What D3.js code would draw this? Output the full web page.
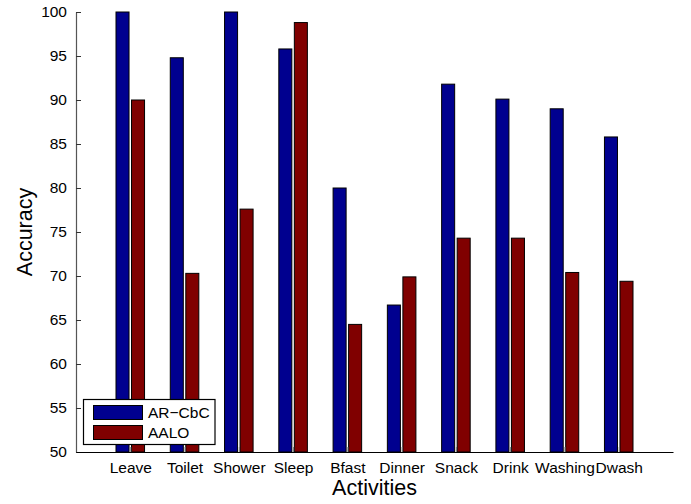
<!DOCTYPE html>
<html>
<head>
<meta charset="utf-8">
<script src="https://cdn.jsdelivr.net/npm/d3@7"></script>
<style>
  html, body { margin: 0; padding: 0; background: #fff; }
  svg { display: block; font-family: "Liberation Sans", Arial, Helvetica, sans-serif; }
</style>
</head>
<body>
<svg id="chart" width="691" height="504"></svg>
<script>
// Per-activity recognition accuracy for two methods
const activities = ["Leave", "Toilet", "Shower", "Sleep", "Bfast", "Dinner", "Snack", "Drink", "Washing", "Dwash"];
const seriesNames = ["AR\u2212CbC", "AALO"];
const arCbC = [100, 94.8, 100, 95.8, 80.0, 66.7, 91.8, 90.1, 89.0, 85.8];
const aalo  = [90.0, 70.3, 77.6, 98.8, 64.5, 69.9, 74.3, 74.3, 70.4, 69.4];
const yTicks = [50, 55, 60, 65, 70, 75, 80, 85, 90, 95, 100];
const colors = ["#00008f", "#800000"];

const svg = d3.select("#chart");
const plotLeft = 76, plotRight = 673, plotTop = 12, plotBottom = 452;

// groups sit at 1..10 with limits [0, 11]
const x = d3.scaleLinear().domain([0, activities.length + 1]).range([plotLeft, plotRight]);
const y = d3.scaleLinear().domain([50, 100]).range([plotBottom, plotTop]);

const barW = 0.24;       // bar width in x units
const offset = 0.143;    // distance of each bar's centre from the group centre
const series = [arCbC, aalo];

// bars
series.forEach((vals, s) => {
  svg.append("g").selectAll("rect")
    .data(vals)
    .join("rect")
    .attr("x", (d, i) => x(i + 1 + (s === 0 ? -offset : offset) - barW / 2))
    .attr("width", x(barW) - x(0))
    .attr("y", d => y(d))
    .attr("height", d => y(50) - y(d))
    .attr("fill", colors[s])
    .attr("stroke", "#000")
    .attr("stroke-width", 1);
});

// y axis (ticks point inward)
const yAxis = d3.axisLeft(y).tickValues(yTicks).tickSize(-5).tickPadding(9).tickSizeOuter(0);
const gy = svg.append("g").attr("transform", `translate(${plotLeft},0)`).call(yAxis);
gy.select(".domain").attr("stroke", "#555").attr("stroke-width", 1.2);
gy.selectAll(".tick line").attr("stroke", "#333");
gy.selectAll("text").attr("font-size", "15.5px").attr("fill", "#000")
  .attr("font-family", "Liberation Sans, Arial, sans-serif");

// x axis (ticks at group centres, inward)
const xAxis = d3.axisBottom(x)
  .tickValues(d3.range(1, activities.length + 1))
  .tickFormat(d => activities[d - 1])
  .tickSize(-5).tickPadding(10).tickSizeOuter(0);
const gx = svg.append("g").attr("transform", `translate(0,${plotBottom})`).call(xAxis);
gx.select(".domain").attr("stroke", "#000").attr("stroke-width", 1.2);
gx.selectAll(".tick line").attr("stroke", "#777");
gx.selectAll("text").attr("font-size", "15.5px").attr("fill", "#000")
  .attr("font-family", "Liberation Sans, Arial, sans-serif");

// axis titles
svg.append("text")
  .attr("x", (plotLeft + plotRight) / 2).attr("y", 495)
  .attr("text-anchor", "middle").attr("font-size", "21.5px")
  .text("Activities");
svg.append("text")
  .attr("transform", `translate(32,${(plotTop + plotBottom) / 2}) rotate(-90)`)
  .attr("text-anchor", "middle").attr("font-size", "21.5px")
  .text("Accuracy");

// legend
const lg = svg.append("g");
lg.append("rect")
  .attr("x", 83.5).attr("y", 399.5).attr("width", 131.5).attr("height", 45)
  .attr("fill", "#fff").attr("stroke", "#000").attr("stroke-width", 1.2);
seriesNames.forEach((name, i) => {
  lg.append("rect")
    .attr("x", 93.5).attr("y", 405.5 + i * 20).attr("width", 49).attr("height", 14)
    .attr("fill", colors[i]).attr("stroke", "#000").attr("stroke-width", 1);
  lg.append("text")
    .attr("x", 148).attr("y", 418 + i * 20)
    .attr("font-size", "15.5px")
    .text(name);
});
</script>
</body>
</html>
